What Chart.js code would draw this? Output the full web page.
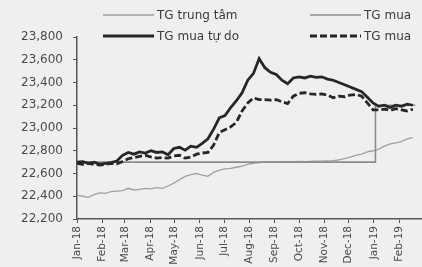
<!DOCTYPE html>
<html>
<head>
<meta charset="utf-8">
<script src="https://cdn.jsdelivr.net/npm/chart.js@4/dist/chart.umd.min.js"></script>
<style>
  html, body { margin: 0; padding: 0; background: #efefef; overflow: hidden; }
  #wrap { width: 422px; height: 267px; position: relative; }
</style>
</head>
<body>
<div id="wrap"><canvas id="rateChart"></canvas></div>
<script>
// giorni dal 1 gen 2018, un campione a settimana
const days = [0, 7, 14, 21, 28, 35, 42, 49, 56, 63, 70, 77, 84, 91, 98, 105, 112, 119, 126, 133,
  140, 147, 154, 161, 168, 175, 182, 189, 196, 203, 210, 217, 224, 231, 238, 245, 252, 259, 266, 273,
  280, 287, 294, 301, 308, 315, 322, 329, 336, 343, 350, 357, 364, 371, 378, 385, 392, 399, 406, 413];

// TG trung tâm
const centralRate = [22410, 22400, 22390, 22415, 22430, 22425, 22440, 22445, 22450, 22470,
  22455, 22460, 22470, 22465, 22475, 22470, 22490, 22515, 22545, 22575,
  22590, 22600, 22585, 22575, 22610, 22630, 22640, 22645, 22655, 22665,
  22680, 22690, 22695, 22700, 22702, 22700, 22704, 22703, 22705, 22706,
  22705, 22707, 22708, 22708, 22710, 22712, 22720, 22730, 22745, 22760,
  22770, 22790, 22800, 22815, 22840, 22860, 22870, 22880, 22905, 22915];

// TG mua tự do
const freeMarket = [22700, 22705, 22690, 22700, 22680, 22690, 22695, 22710, 22760, 22785,
  22770, 22790, 22780, 22800, 22785, 22790, 22765, 22820, 22830, 22805,
  22840, 22830, 22865, 22905, 22990, 23090, 23110, 23180, 23240, 23310,
  23420, 23480, 23610, 23530, 23490, 23470, 23420, 23390, 23440, 23450,
  23440, 23455, 23445, 23450, 23430, 23420, 23400, 23380, 23360, 23340,
  23320, 23270, 23220, 23190, 23200, 23180, 23200, 23190, 23210, 23200];

// TG mua NHTM
const bankBuy = [22690, 22680, 22690, 22680, 22675, 22680, 22690, 22685, 22705, 22730,
  22740, 22750, 22760, 22745, 22735, 22740, 22735, 22755, 22760, 22735,
  22745, 22770, 22780, 22785, 22850, 22960, 22985, 23010, 23050, 23150,
  23220, 23265, 23250, 23250, 23245, 23250, 23230, 23215, 23280, 23305,
  23310, 23300, 23295, 23300, 23290, 23265, 23280, 23275, 23290, 23295,
  23280, 23220, 23160, 23160, 23165, 23155, 23170, 23160, 23150, 23165];

// TG mua NHNN (a gradini)
const sbvDays = [0, 367, 367, 416];
const sbvBuy = [22700, 22700, 23200, 23200];

// tick asse x: inizio di ogni mese
const monthTicks = [0, 31, 59, 90, 120, 151, 181, 212, 243, 273, 304, 334, 365, 396];
const monthLabels = ["Jan-18", "Feb-18", "Mar-18", "Apr-18", "May-18", "Jun-18", "Jul-18",
  "Aug-18", "Sep-18", "Oct-18", "Nov-18", "Dec-18", "Jan-19", "Feb-19"];
const yTicks = [22200, 22400, 22600, 22800, 23000, 23200, 23400, 23600, 23800];

const seriesNames = ["TG trung tâm", "TG mua NHNN", "TG mua tự do", "TG mua NHTM"];

const FONT = "'DejaVu Sans', Verdana, sans-serif";

const toPoints = (xs, ys) => xs.map((d, i) => ({ x: d, y: ys[i] }));

// legenda disegnata a mano, tagliata sul bordo destro come nell'originale
const manualLegend = {
  id: "manualLegend",
  afterDraw(chart) {
    const c = chart.ctx;
    const spots = [
      { x: 103, y: 15 }, { x: 310, y: 15 },
      { x: 103, y: 36 }, { x: 310, y: 36 }
    ];
    c.save();
    c.beginPath();
    c.rect(0, 0, 414, 50);
    c.clip();
    c.font = "12px " + FONT;
    c.textBaseline = "middle";
    c.fillStyle = "#3a3a3a";
    chart.data.datasets.forEach((ds, i) => {
      const p = spots[i];
      c.beginPath();
      c.strokeStyle = ds.borderColor;
      c.lineWidth = ds.borderWidth;
      c.setLineDash(ds.borderDash || []);
      c.moveTo(p.x, p.y);
      c.lineTo(p.x + 51, p.y);
      c.stroke();
      c.setLineDash([]);
      c.fillText(ds.label, p.x + 54, p.y + 0.5);
    });
    c.restore();
  }
};

const ctx = document.getElementById("rateChart").getContext("2d");

new Chart(ctx, {
  type: "line",
  data: {
    datasets: [
      {
        label: seriesNames[0],
        data: toPoints(days, centralRate),
        borderColor: "#a0a0a0",
        borderWidth: 1.3,
        order: 4
      },
      {
        label: seriesNames[1],
        data: toPoints(sbvDays, sbvBuy),
        borderColor: "#8c8c8c",
        borderWidth: 1.6,
        order: 3
      },
      {
        label: seriesNames[2],
        data: toPoints(days, freeMarket),
        borderColor: "#262626",
        borderWidth: 2.8,
        order: 1
      },
      {
        label: seriesNames[3],
        data: toPoints(days, bankBuy),
        borderColor: "#262626",
        borderWidth: 2.8,
        borderDash: [7, 3],
        order: 2
      }
    ]
  },
  options: {
    responsive: true,
    maintainAspectRatio: false,
    animation: false,
    layout: { padding: { top: 37, right: 1, left: 0, bottom: 0 } },
    elements: { point: { radius: 0 }, line: { tension: 0 } },
    plugins: {
      legend: { display: false },
      tooltip: { enabled: false }
    },
    scales: {
      x: {
        type: "linear",
        min: 0,
        max: 423,
        afterBuildTicks: (scale) => {
          scale.ticks = monthTicks.map((v) => ({ value: v }));
        },
        afterFit: (scale) => { scale.height = 48; },
        grid: { drawOnChartArea: false, drawTicks: true, tickLength: 4, color: "#555" },
        border: { color: "#555", width: 1.5 },
        ticks: {
          autoSkip: false,
          minRotation: 90,
          maxRotation: 90,
          padding: 3,
          color: "#4a4a4a",
          font: { family: FONT, size: 10.5 },
          callback: (value) => monthLabels[monthTicks.indexOf(value)]
        }
      },
      y: {
        min: 22200,
        max: 23800,
        afterBuildTicks: (scale) => {
          scale.ticks = yTicks.map((v) => ({ value: v }));
        },
        afterFit: (scale) => { scale.width = 77; },
        grid: { drawOnChartArea: false, drawTicks: true, tickLength: 4, color: "#555" },
        border: { color: "#555", width: 1.5 },
        ticks: {
          padding: 10,
          color: "#4a4a4a",
          font: { family: FONT, size: 12 },
          callback: (value) => value.toLocaleString("en-US")
        }
      }
    }
  },
  plugins: [manualLegend]
});
</script>
</body>
</html>
